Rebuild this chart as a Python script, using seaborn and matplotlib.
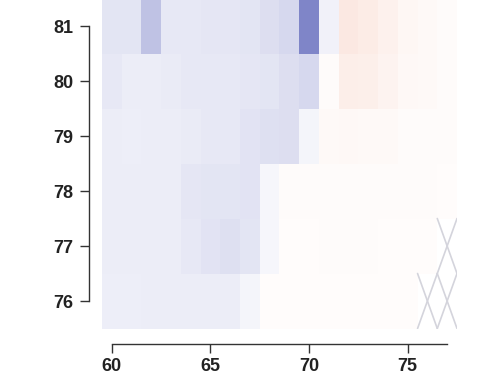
import numpy as np
import pandas as pd
import matplotlib
matplotlib.use("Agg")
import matplotlib.pyplot as plt
import seaborn as sns
from matplotlib.colors import LinearSegmentedColormap

# Ages (columns) and calendar years (rows, top to bottom)
ages = list(range(60, 78))
years = [81, 80, 79, 78, 77, 76]

nan = np.nan
row_81 = [-0.13, -0.13, -0.30, -0.11, -0.11, -0.12, -0.12, -0.13, -0.16, -0.19,
          -0.60, -0.07, 0.16, 0.14, 0.10, 0.06, 0.04, 0.03]
row_80 = [-0.11, -0.09, -0.09, -0.10, -0.11, -0.11, -0.11, -0.12, -0.13, -0.16,
          -0.19, 0.03, 0.12, 0.11, 0.08, 0.05, 0.04, 0.03]
row_79 = [-0.09, -0.08, -0.09, -0.09, -0.10, -0.11, -0.11, -0.14, -0.15, -0.16,
          -0.05, 0.04, 0.05, 0.04, 0.04, 0.03, 0.03, 0.03]
row_78 = [-0.09, -0.09, -0.09, -0.09, -0.12, -0.13, -0.13, -0.14, -0.04, 0.03,
          0.03, 0.03, 0.03, 0.03, 0.03, 0.03, 0.03, 0.02]
row_77 = [-0.09, -0.09, -0.09, -0.09, -0.11, -0.14, -0.15, -0.13, -0.04, 0.02,
          0.02, 0.03, 0.03, 0.03, 0.02, 0.02, 0.02, nan]
row_76 = [-0.08, -0.08, -0.09, -0.09, -0.09, -0.09, -0.09, -0.05, 0.02, 0.02,
          0.02, 0.02, 0.02, 0.02, 0.02, 0.02, nan, nan]

# Cells without an estimate, crossed out: (age, year)
crossed = [(77, 77), (76, 76), (77, 76)]

x_ticks = [60, 65, 70, 75]
y_ticks = [81, 80, 79, 78, 77, 76]

sns.set_theme(style="white")
plt.rcParams['font.family'] = ['Liberation Sans', 'DejaVu Sans']

fig = plt.figure(figsize=(4.96, 3.84), dpi=100)
fig.patch.set_facecolor("white")
ax = fig.add_axes([0.2054, 0.1445, 0.716, 0.8594])

df = pd.DataFrame([row_81, row_80, row_79, row_78, row_77, row_76],
                  index=years, columns=ages)
cmap = LinearSegmentedColormap.from_list("div", ["#2a34a4", "#ffffff", "#e8724a"])
sns.heatmap(df, ax=ax, cmap=cmap, vmin=-1, vmax=1, cbar=False,
            mask=df.isna(), linewidths=0)

for a, y in crossed:
    x0 = ages.index(a)
    y0 = years.index(y)
    ax.plot([x0, x0 + 1], [y0, y0 + 1], color="#d4d4dc", lw=1.2)
    ax.plot([x0, x0 + 1], [y0 + 1, y0], color="#d4d4dc", lw=1.2)

ax.set_xticks([ages.index(a) + 0.5 for a in x_ticks])
ax.set_xticklabels([str(a) for a in x_ticks])
ax.set_yticks([years.index(y) + 0.5 for y in y_ticks])
ax.set_yticklabels([str(y) for y in y_ticks])
ax.set_xlabel("")
ax.set_ylabel("")

for side in ("top", "right"):
    ax.spines[side].set_visible(False)
ax.spines["left"].set_visible(True)
ax.spines["left"].set_position(("outward", 9))
ax.spines["left"].set_bounds(years.index(81) + 0.5, years.index(76) + 0.5)
ax.spines["bottom"].set_visible(True)
ax.spines["bottom"].set_position(("outward", 11))
ax.spines["bottom"].set_bounds(0.5, len(ages) - 0.5)
for side in ("left", "bottom"):
    ax.spines[side].set_color("#333333")
    ax.spines[side].set_linewidth(1.0)

ax.tick_params(axis="both", which="both", direction="out", length=6.5, width=1.0,
               color="#333333", labelsize=13, labelcolor="#222222",
               bottom=True, left=True)
ax.tick_params(axis="x", pad=4)
ax.tick_params(axis="y", pad=5)
for lab in ax.get_xticklabels() + ax.get_yticklabels():
    lab.set_fontweight("bold")
    lab.set_rotation(0)

fig.savefig("out.png", dpi=100, facecolor="white")
